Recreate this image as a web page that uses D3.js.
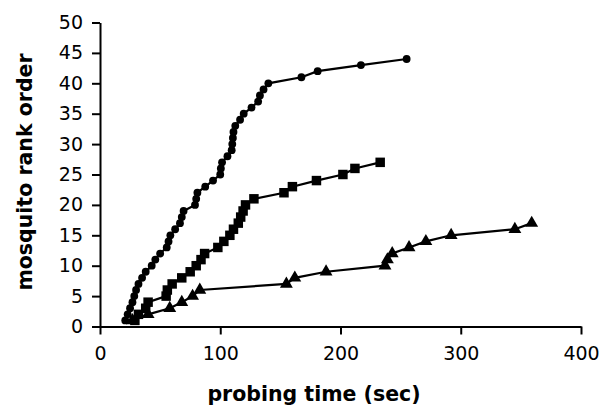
<!DOCTYPE html>
<html>
<head>
<meta charset="utf-8">
<script src="https://cdn.jsdelivr.net/npm/d3@7"></script>
<style>
  body { margin: 0; background: #fff; }
  svg { display: block; }
  text { font-family: Verdana, "DejaVu Sans", sans-serif; fill: #000; }
</style>
</head>
<body>
<div class="content"></div>
<script>
///////////////////////////////////////////////////////////////////
//DATA//////////////////////////////////////
var xTicks = [0, 100, 200, 300, 400];
var yTicks = [0, 5, 10, 15, 20, 25, 30, 35, 40, 45, 50];

// circles
var circleTime = [21, 23, 25, 27, 28.5, 30, 32, 35, 38, 43, 46, 50, 55.5, 57, 58.5,
  62.5, 66.5, 68, 69.5, 79, 80, 81, 87.5, 94, 100, 100.5, 101.5, 106, 109.5, 110,
  110.5, 111, 112.5, 116.5, 119.5, 126, 131.5, 133, 136, 140, 167.5, 181, 217, 255];
var circleRank = [1, 2, 3, 4, 5, 6, 7, 8, 9, 10, 11, 12, 13, 14, 15, 16, 17, 18, 19, 20,
  21, 22, 23, 24, 25, 26, 27, 28, 29, 30, 31, 32, 33, 34, 35, 36, 37, 38, 39, 40,
  41, 42, 43, 44];

// squares
var squareTime = [29, 32, 38, 40, 55, 56, 60, 68, 75, 80, 84, 87, 98, 103, 108, 111,
  115, 117, 119, 121, 128, 153, 160, 180, 202, 212, 233];
var squareRank = [1, 2, 3, 4, 5, 6, 7, 8, 9, 10, 11, 12, 13, 14, 15, 16, 17, 18, 19,
  20, 21, 22, 23, 24, 25, 26, 27];

// triangles
var triangleTime = [27, 40, 58, 68, 77, 83, 155, 162, 188, 237, 239, 243, 257, 271,
  292, 345, 359];
var triangleRank = [1, 2, 3, 4, 5, 6, 7, 8, 9, 10, 11, 12, 13, 14, 15, 16, 17];

///////////////////////////////////////////////////////////////////
//SETUP////////////////////////////////////////////////////////////
var width = 604;
var height = 411;
var leftPad = 100;
var rightPad = 23;
var topPad = 22.5;
var bottomPad = 84.5;

var svg = d3.select(".content").append("svg")
  .attr("width", width).attr("height", height);

var x = d3.scaleLinear().domain([0, 400]).range([leftPad, width - rightPad]);
var y = d3.scaleLinear().domain([0, 50]).range([height - bottomPad, topPad]);

//AXES/////////////////////////////////////////////////////////////
svg.append("g").attr("class", "x axis")
  .attr("transform", "translate(0," + y(0) + ")")
  .call(d3.axisBottom(x).tickValues(xTicks).tickSizeOuter(0).tickSizeInner(8).tickPadding(12));

svg.append("g").attr("class", "y axis")
  .attr("transform", "translate(" + x(0) + ",0)")
  .call(d3.axisLeft(y).tickValues(yTicks).tickSizeOuter(0).tickSizeInner(8).tickPadding(9));

svg.selectAll(".axis path, .axis line").attr("stroke", "#000").attr("stroke-width", 2);
svg.selectAll(".axis text").style("font-size", "19px").attr("fill", "#000");

svg.append("text")
  .attr("x", 314).attr("y", 401)
  .attr("text-anchor", "middle")
  .style("font-size", "20.5px").style("font-weight", "bold")
  .text("probing time (sec)");

svg.append("text")
  .attr("transform", "translate(32," + 172 + ") rotate(-90)")
  .attr("text-anchor", "middle")
  .style("font-size", "20.5px").style("font-weight", "bold")
  .text("mosquito rank order");

///////////////////////////////////////////////////////////////////
//SERIES///////////////////////////////////////////////////////////
var line = d3.line().x(function(d){ return x(d[0]); }).y(function(d){ return y(d[1]); });

var series = [
  { name: "circle", pts: d3.zip(circleTime, circleRank), sym: d3.symbolCircle, size: 48 },
  { name: "square", pts: d3.zip(squareTime, squareRank), sym: d3.symbolSquare, size: 90 },
  { name: "triangle", pts: d3.zip(triangleTime, triangleRank), sym: d3.symbolTriangle, size: 72 }
];

series.forEach(function(s){
  var g = svg.append("g").attr("class", "series--" + s.name);
  g.append("path").datum(s.pts)
    .attr("d", line)
    .attr("fill", "none")
    .attr("stroke", "#000")
    .attr("stroke-width", 2.2);
  g.selectAll(".marker").data(s.pts)
    .enter().append("path").attr("class", "marker")
    .attr("d", d3.symbol().type(s.sym).size(s.size))
    .attr("transform", function(d){ return "translate(" + x(d[0]) + "," + y(d[1]) + ")"; })
    .attr("fill", "#000");
});
</script>
</body>
</html>
